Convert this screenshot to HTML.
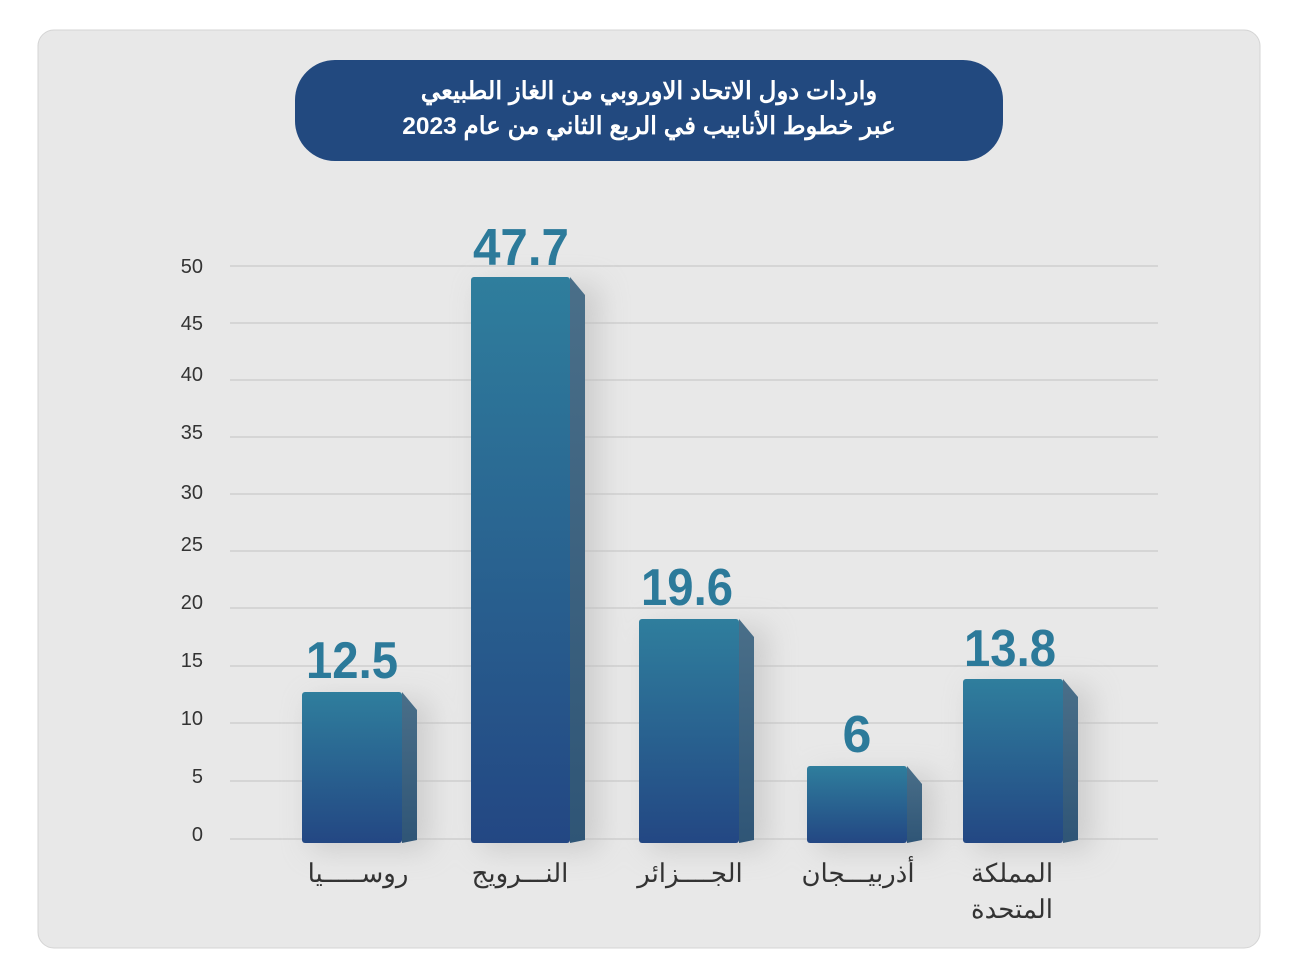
<!DOCTYPE html>
<html><head><meta charset="utf-8"><style>
body{margin:0;background:#fff;width:1296px;height:960px;overflow:hidden;}
</style></head><body>
<svg width="1296" height="960" xmlns="http://www.w3.org/2000/svg">
<defs>
<linearGradient id="g" x1="0" y1="0" x2="0" y2="1"><stop offset="0" stop-color="#2f7e9d"/><stop offset="1" stop-color="#234783"/></linearGradient>
<linearGradient id="s" x1="0" y1="0" x2="0" y2="1"><stop offset="0" stop-color="#4a6f89"/><stop offset="1" stop-color="#2f5576"/></linearGradient>
<filter id="sh" x="-50%" y="-20%" width="200%" height="140%"><feGaussianBlur stdDeviation="14"/></filter>
</defs>
<rect x="38" y="30" width="1222" height="918" rx="16" fill="#e8e8e8" stroke="#d4d4d4"/>
<rect x="295" y="60" width="708" height="101" rx="40" fill="#22497f"/>
<g font-family="'Liberation Sans','Noto Sans CJK SC',sans-serif" font-weight="bold" font-size="24.5" fill="#fff" text-anchor="middle" direction="rtl">
<text x="649" y="99">واردات دول الاتحاد الاوروبي من الغاز الطبيعي</text>
<text x="649" y="134">عبر خطوط الأنابيب في الربع الثاني من عام 2023</text>
</g>
<g stroke="#c9c9c9" stroke-width="1.2">
<line x1="230" x2="1158" y1="266" y2="266"/><line x1="230" x2="1158" y1="323" y2="323"/>
<line x1="230" x2="1158" y1="380" y2="380"/><line x1="230" x2="1158" y1="437" y2="437"/>
<line x1="230" x2="1158" y1="494" y2="494"/><line x1="230" x2="1158" y1="551" y2="551"/>
<line x1="230" x2="1158" y1="608" y2="608"/><line x1="230" x2="1158" y1="666" y2="666"/>
<line x1="230" x2="1158" y1="723" y2="723"/><line x1="230" x2="1158" y1="781" y2="781"/>
<line x1="230" x2="1158" y1="839" y2="839"/>
</g>
<g font-family="'Liberation Sans',sans-serif" font-size="20" fill="#333" text-anchor="end">
<text x="203" y="273">50</text><text x="203" y="330">45</text><text x="203" y="381">40</text>
<text x="203" y="439">35</text><text x="203" y="499">30</text><text x="203" y="551">25</text>
<text x="203" y="609">20</text><text x="203" y="667">15</text><text x="203" y="725">10</text>
<text x="203" y="783">5</text><text x="203" y="841">0</text>
</g>
<g fill="#bbb" opacity="0.6" filter="url(#sh)">
<rect x="310" y="700" width="120" height="150"/><rect x="480" y="285" width="120" height="565"/>
<rect x="648" y="627" width="120" height="223"/><rect x="816" y="774" width="120" height="76"/>
<rect x="972" y="687" width="120" height="163"/>
</g>
<g>
<path d="M402 692 L417 710 L417 840 L402 843Z" fill="url(#s)"/><rect x="302" y="692" width="100" height="151" rx="3" fill="url(#g)"/>
<path d="M570 277 L585 295 L585 840 L570 843Z" fill="url(#s)"/><rect x="471" y="277" width="99" height="566" rx="3" fill="url(#g)"/>
<path d="M739 619 L754 637 L754 840 L739 843Z" fill="url(#s)"/><rect x="639" y="619" width="100" height="224" rx="3" fill="url(#g)"/>
<path d="M907 766 L922 784 L922 840 L907 843Z" fill="url(#s)"/><rect x="807" y="766" width="100" height="77" rx="3" fill="url(#g)"/>
<path d="M1063 679 L1078 697 L1078 840 L1063 843Z" fill="url(#s)"/><rect x="963" y="679" width="100" height="164" rx="3" fill="url(#g)"/>
</g>
<g font-family="'Liberation Sans Narrow','Liberation Sans',sans-serif" font-weight="bold" font-size="52" fill="#2c7a9a" text-anchor="middle">
<text x="352" y="678" textLength="92" lengthAdjust="spacingAndGlyphs">12.5</text>
<text x="521" y="265" textLength="96" lengthAdjust="spacingAndGlyphs">47.7</text>
<text x="687" y="605" textLength="92" lengthAdjust="spacingAndGlyphs">19.6</text>
<text x="857" y="752">6</text>
<text x="1010" y="666" textLength="92" lengthAdjust="spacingAndGlyphs">13.8</text>
</g>
<g font-family="'Liberation Sans','Noto Sans CJK SC',sans-serif" font-size="26" fill="#333" text-anchor="middle" direction="rtl">
<text x="358" y="882">روســـــيا</text>
<text x="520" y="882">النـــرويج</text>
<text x="690" y="882">الجــــزائر</text>
<text x="858" y="882">أذربيـــجان</text>
<text x="1012" y="882">المملكة</text>
<text x="1012" y="918">المتحدة</text>
</g>
</svg>
</body></html>
